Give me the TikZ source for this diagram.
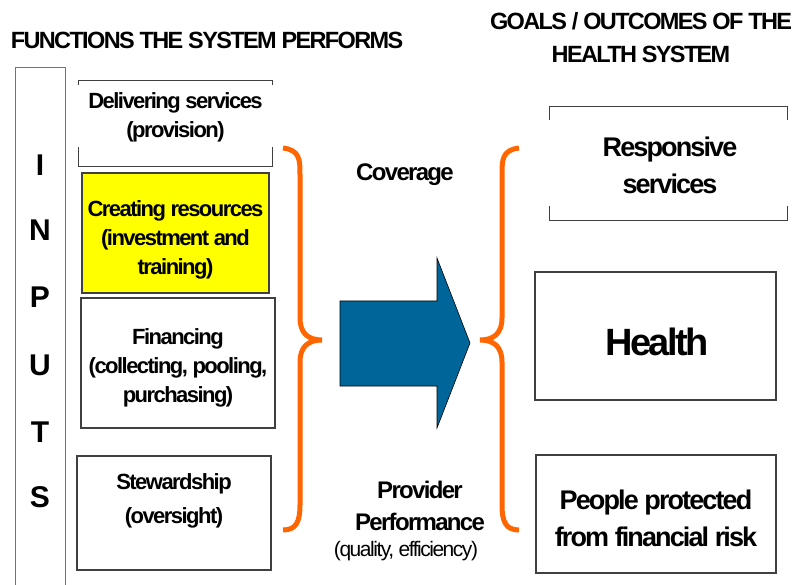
\documentclass[tikz,border=0pt]{standalone}
\usepackage{fontspec}
\setmainfont{Liberation Sans}[LetterSpace=-7]
\usepackage{tikz}
\usetikzlibrary{calc}

\definecolor{braceorange}{HTML}{FF6600}
\definecolor{arrowblue}{HTML}{006699}
\definecolor{boxyellow}{HTML}{FFFF00}

\tikzset{
	boxline/.style={draw=black!75, line width=1.2pt},
	funcbox/.style={boxline, inner sep=0pt},
	functext/.style={font=\bfseries\fontsize{22}{29}\selectfont, align=center, inner sep=0pt},
	midtext/.style={font=\bfseries\fontsize{24}{32}\selectfont, align=center, inner sep=0pt},
	goaltext/.style={font=\bfseries\fontsize{27}{37}\selectfont, align=center, inner sep=0pt},
	headtext/.style={font=\bfseries\fontsize{23.5}{33}\selectfont, align=center, inner sep=0pt},
	lettertext/.style={font=\bfseries\fontsize{30}{30}\selectfont, inner sep=0pt},
	bracepath/.style={draw=braceorange, line width=5pt},
}

\begin{document}
\begin{tikzpicture}[x=1pt, y=-1pt]
				\useasboundingbox (0,0) rectangle (795,585);
				
				\node[headtext] (functitle) at (207,40) {FUNCTIONS THE SYSTEM PERFORMS};
				\node[headtext] (goaltitle) at (641,38) {GOALS / OUTCOMES OF THE\\HEALTH SYSTEM};
				
				\draw[draw=black!55, line width=1pt] (15,590) -- (15,68) -- (65,68) -- (65,590);
				\node[lettertext] (inI) at (40,165) {I};
				\node[lettertext] (inN) at (40,230) {N};
				\node[lettertext] (inP) at (40,297) {P};
				\node[lettertext] (inU) at (40,365) {U};
				\node[lettertext] (inT) at (40,432) {T};
				\node[lettertext] (inS) at (40,497) {S};
				
				\node[minimum width=193, minimum height=85, inner sep=0pt] (deliver) at (175.5,123.5) {};
				\draw[boxline] ([yshift=-4]deliver.north west) -- (deliver.north west) -- (deliver.north east) -- ([yshift=-4]deliver.north east);
				\draw[boxline] ([yshift=19]deliver.south west) -- (deliver.south west) -- (deliver.south east) -- ([yshift=19]deliver.south east);
				\node[functext] (delivertext) at (175.5,117) {Delivering services\\(provision)};
				
				\node[funcbox, fill=boxyellow, minimum width=187, minimum height=120] (create) at (175.5,233) {};
				\node[functext] (createtext) at (175.5,240) {Creating resources\\(investment and\\training)};
				
				\node[funcbox, minimum width=194, minimum height=130] (finance) at (178,363) {};
				\node[functext] (financetext) at (178,368) {Financing\\(collecting, pooling,\\purchasing)};
				
				\node[funcbox, minimum width=194, minimum height=114] (steward) at (174,513) {};
				\node[functext, font=\bfseries\fontsize{22}{34}\selectfont] (stewardtext) at (174,501) {Stewardship\\(oversight)};
				
				\draw[bracepath] (283,148) .. controls (300,150) and (300,160) .. (300,175) -- (300,318) .. controls (300,333) and (308,340) .. (322,340) .. controls (308,340) and (300,347) .. (300,362) -- (300,505) .. controls (300,522) and (296,530) .. (283,530);
				\draw[bracepath] (519,148) .. controls (502,150) and (502,160) .. (502,175) -- (502,318) .. controls (502,333) and (494,340) .. (480,340) .. controls (494,340) and (502,347) .. (502,362) -- (502,505) .. controls (502,522) and (506,530) .. (519,530);
				
				\node[midtext] (coverage) at (405,175) {Coverage};
				\draw[fill=arrowblue, draw=black, line width=0.6pt] (340,301) -- (437,301) -- (437,258) -- (470,343) -- (437,428) -- (437,386) -- (340,386) -- cycle;
				\node[midtext] (provider) at (420,506) {Provider\\Performance};
				\node[inner sep=0pt, font=\fontsize{21}{24}\selectfont] (quality) at (406,551) {(quality, efficiency)};
				
				\node[minimum width=237, minimum height=113, inner sep=0pt] (respons) at (668.5,163.5) {};
				\draw[boxline] ([yshift=-13]respons.north west) -- (respons.north west) -- (respons.north east) -- ([yshift=-13]respons.north east);
				\draw[boxline] ([yshift=14]respons.south west) -- (respons.south west) -- (respons.south east) -- ([yshift=14]respons.south east);
				\node[goaltext] (responstext) at (670,165) {Responsive\\services};
				
				\node[funcbox, minimum width=241, minimum height=128] (health) at (655.5,336) {};
				\node[inner sep=0pt, font=\bfseries\fontsize{38}{40}\selectfont] (healthtext) at (657,342) {Health};
				
				\node[funcbox, minimum width=240, minimum height=118] (people) at (656,514) {};
				\node[goaltext] (peopletext) at (656,518) {People protected\\from financial risk};
				\end{tikzpicture}
\end{document}
